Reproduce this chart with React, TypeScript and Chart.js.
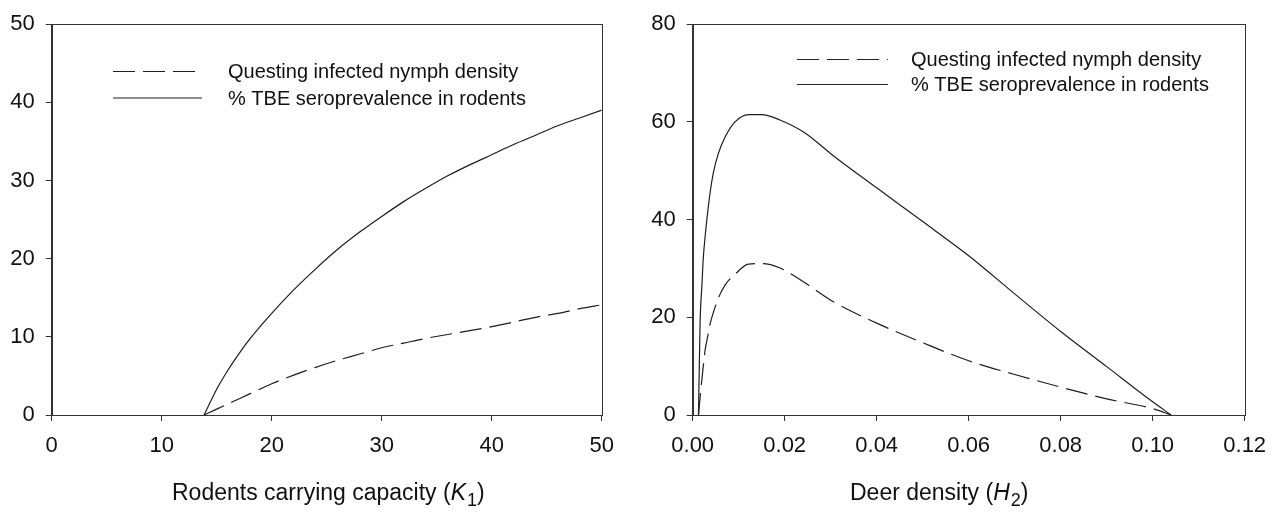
import React, { useEffect, useRef } from "react";
import { Chart, registerables } from "chart.js";

Chart.register(...registerables);

// ---------- Data ----------
const seriesLabels = ["Questing infected nymph density", "% TBE seroprevalence in rodents"];

// Left panel: rodents carrying capacity K1
const rodentK = [13.85, 15, 16, 17, 18, 20, 22, 24, 26, 28, 30, 32, 34, 36, 38, 40, 42, 44, 46, 48, 50];
const rodentNymph = [0, 0.75, 1.4, 2.05, 2.7, 4.0, 5.1, 6.1, 7.0, 7.8, 8.6, 9.2, 9.8, 10.3, 10.8, 11.3, 11.9, 12.5, 13.0, 13.6, 14.1];
const rodentSero = [0, 3.3, 5.7, 7.8, 9.7, 13.0, 16.0, 18.7, 21.2, 23.4, 25.4, 27.3, 29.0, 30.6, 32.0, 33.3, 34.6, 35.8, 37.0, 38.0, 39.0];
const leftXTicks = [0, 10, 20, 30, 40, 50];
const leftYTicks = [0, 10, 20, 30, 40, 50];

// Right panel: deer density H2
const deerH = [0.00126, 0.0016, 0.002, 0.0023, 0.0027, 0.0031, 0.0038, 0.0045, 0.0056, 0.0071, 0.0092, 0.0121, 0.015, 0.0187, 0.0245, 0.03, 0.04, 0.05, 0.06, 0.07, 0.08, 0.09, 0.1, 0.104];
const deerNymph = [0, 3.5, 7.3, 10.0, 13.3, 15.3, 18.7, 21.0, 24.0, 26.7, 28.8, 30.9, 31.0, 30.2, 27.0, 23.5, 18.8, 14.8, 11.1, 8.3, 5.7, 3.3, 1.3, 0];
const deerSero = [0, 18.7, 26.5, 32.1, 36.5, 40.2, 45.6, 49.6, 53.6, 57.0, 60.0, 61.5, 61.5, 60.5, 57.7, 53.5, 46.5, 39.6, 32.6, 24.8, 17.1, 9.9, 2.7, 0];
const rightXTicks = [0, 0.02, 0.04, 0.06, 0.08, 0.1, 0.12];
const rightYTicks = [0, 20, 40, 60, 80];

const FONT = "'Liberation Sans', Arial, Helvetica, sans-serif";
const INK = "#111";
const LINE = "#1e1e1e";
const AXIS = "#333";

type TitlePart = { t: string; italic?: boolean; sub?: boolean };

interface PanelOpts {
  width: number;
  xs: number[];
  nymph: number[];
  sero: number[];
  xTicks: number[];
  yTicks: number[];
  xDecimals: number;
  padRight: number;
  title: TitlePart[];
  titleStartX: number;
  legendLineX0: number;
  legendLineX1: number;
  legendTextX: number;
  legendY0: number;
  legendDY: number;
}

function makePlugin(o: PanelOpts) {
  return {
    id: "decor",
    afterDatasetsDraw(chart: any) {
      const ctx = chart.ctx as CanvasRenderingContext2D;
      const a = chart.chartArea;
      ctx.save();
      // frame
      ctx.strokeStyle = AXIS;
      ctx.lineWidth = 1;
      ctx.strokeRect(Math.round(a.left) + 0.5, Math.round(a.top) + 0.5, Math.round(a.right - a.left), Math.round(a.bottom - a.top));
      // legend
      chart.data.datasets.forEach((ds: any, i: number) => {
        const y = o.legendY0 + i * o.legendDY;
        ctx.beginPath();
        ctx.setLineDash(ds.borderDash || []);
        ctx.strokeStyle = LINE;
        ctx.lineWidth = 1.2;
        ctx.moveTo(o.legendLineX0, y);
        ctx.lineTo(o.legendLineX1, y);
        ctx.stroke();
        ctx.setLineDash([]);
        ctx.fillStyle = INK;
        ctx.font = `20px ${FONT}`;
        ctx.textBaseline = "middle";
        ctx.textAlign = "left";
        ctx.fillText(ds.label, o.legendTextX, y + 1);
      });
      // axis title with italic/subscript
      let x = o.titleStartX;
      const base = 500;
      ctx.textBaseline = "alphabetic";
      ctx.fillStyle = INK;
      o.title.forEach((p) => {
        ctx.font = p.sub ? `18px ${FONT}` : `${p.italic ? "italic " : ""}23px ${FONT}`;
        ctx.fillText(p.t, x, p.sub ? base + 6 : base);
        x += ctx.measureText(p.t).width + (p.italic ? 1 : 0);
      });
      ctx.restore();
    },
  };
}

function makeConfig(o: PanelOpts): any {
  const xMin = o.xTicks[0];
  const xMax = o.xTicks[o.xTicks.length - 1];
  const yMin = o.yTicks[0];
  const yMax = o.yTicks[o.yTicks.length - 1];
  const tickFont = { family: FONT, size: 22 };
  return {
    type: "line",
    data: {
      datasets: [
        {
          label: seriesLabels[0],
          data: o.xs.map((x, i) => ({ x, y: o.nymph[i] })),
          borderColor: LINE,
          borderWidth: 1.2,
          borderDash: [22, 8],
          pointRadius: 0,
          fill: false,
          cubicInterpolationMode: "monotone",
        },
        {
          label: seriesLabels[1],
          data: o.xs.map((x, i) => ({ x, y: o.sero[i] })),
          borderColor: LINE,
          borderWidth: 1.2,
          pointRadius: 0,
          fill: false,
          cubicInterpolationMode: "monotone",
        },
      ],
    },
    options: {
      animation: false,
      responsive: false,
      devicePixelRatio: 1,
      layout: { padding: { top: 18, right: o.padRight, bottom: 0, left: 0 } },
      plugins: { legend: { display: false }, tooltip: { enabled: false }, title: { display: false } },
      scales: {
        x: {
          type: "linear",
          min: xMin,
          max: xMax,
          afterBuildTicks: (s: any) => {
            s.ticks = o.xTicks.map((v) => ({ value: v }));
          },
          afterFit: (s: any) => {
            s.height = 100;
          },
          ticks: {
            font: tickFont,
            color: INK,
            padding: 12,
            maxRotation: 0,
            autoSkip: false,
            callback: (v: any) => Number(v).toFixed(o.xDecimals),
          },
          grid: { display: true, drawOnChartArea: false, drawTicks: true, tickLength: 6, color: AXIS },
          border: { display: true, color: AXIS, width: 1 },
        },
        y: {
          type: "linear",
          min: yMin,
          max: yMax,
          afterBuildTicks: (s: any) => {
            s.ticks = o.yTicks.map((v) => ({ value: v }));
          },
          afterFit: (s: any) => {
            s.width = 51.7;
          },
          ticks: {
            font: tickFont,
            color: INK,
            padding: 11,
            autoSkip: false,
            callback: (v: any) => String(v),
          },
          grid: { display: true, drawOnChartArea: false, drawTicks: true, tickLength: 6, color: AXIS },
          border: { display: true, color: AXIS, width: 1 },
        },
      },
    },
    plugins: [makePlugin(o)],
  };
}

function Panel({ opts }: { opts: PanelOpts }) {
  const ref = useRef<HTMLCanvasElement | null>(null);
  useEffect(() => {
    if (!ref.current) return;
    const chart = new Chart(ref.current, makeConfig(opts));
    return () => chart.destroy();
  }, [opts]);
  return <canvas ref={ref} width={opts.width} height={515} style={{ display: "block", width: opts.width, height: 515 }} />;
}

const leftOpts: PanelOpts = {
  width: 641,
  xs: rodentK,
  nymph: rodentNymph,
  sero: rodentSero,
  xTicks: leftXTicks,
  yTicks: leftYTicks,
  xDecimals: 0,
  padRight: 641 - 601.7,
  title: [{ t: "Rodents carrying capacity (" }, { t: "K", italic: true }, { t: "1", sub: true }, { t: ")" }],
  titleStartX: 172,
  legendLineX0: 113,
  legendLineX1: 202,
  legendTextX: 228,
  legendY0: 71.5,
  legendDY: 26.5,
};

const rightOpts: PanelOpts = {
  width: 642,
  xs: deerH,
  nymph: deerNymph,
  sero: deerSero,
  xTicks: rightXTicks,
  yTicks: rightYTicks,
  xDecimals: 2,
  padRight: 642 - 603.7,
  title: [{ t: "Deer density (" }, { t: "H", italic: true }, { t: "2", sub: true }, { t: ")" }],
  titleStartX: 850 - 641,
  legendLineX0: 797 - 641,
  legendLineX1: 888 - 641,
  legendTextX: 911 - 641,
  legendY0: 59.5,
  legendDY: 25,
};

export default function App() {
  return (
    <div style={{ position: "fixed", left: 0, top: 0, width: 1283, height: 515, background: "#fff", display: "flex" }}>
      <Panel opts={leftOpts} />
      <Panel opts={rightOpts} />
    </div>
  );
}
